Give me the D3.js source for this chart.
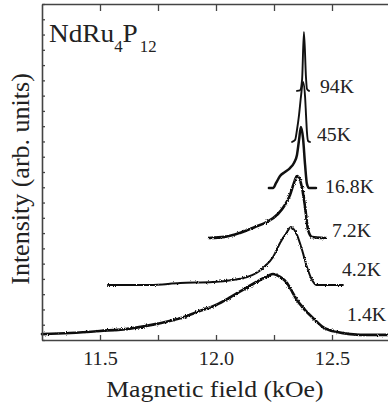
<!DOCTYPE html>
<html>
<head>
<meta charset="utf-8">
<script src="https://cdn.jsdelivr.net/npm/d3@7"></script>
<style>
  html, body { margin: 0; padding: 0; background: #fff; }
  svg { display: block; }
</style>
</head>
<body>
<div id="chart"></div>
<script>
// ---------- data (field in kOe, intensity in arb. units incl. vertical offset) ----------
const seriesLabels = ["1.4K", "4.2K", "7.2K", "16.8K", "45K", "94K"];

const field_1p4K = [11.25, 11.371, 11.5, 11.629, 11.75, 11.845, 11.918, 12.0, 12.06, 12.134, 12.19, 12.224, 12.246, 12.276, 12.306, 12.319, 12.349, 12.384, 12.418, 12.461, 12.522, 12.578, 12.664, 12.75];
const int_1p4K   = [0.39, 0.46, 0.59, 0.75, 1.07, 1.42, 1.83, 2.29, 2.78, 3.45, 3.93, 4.19, 4.32, 4.13, 3.73, 3.41, 2.62, 1.96, 1.44, 0.85, 0.52, 0.39, 0.33, 0.33];

const field_4p2K = [11.534, 11.716, 11.845, 11.987, 12.134, 12.203, 12.246, 12.276, 12.306, 12.323, 12.349, 12.371, 12.392, 12.414, 12.435, 12.547];
const int_4p2K   = [3.60, 3.60, 3.73, 3.80, 4.13, 4.72, 5.44, 6.35, 7.07, 7.40, 6.88, 5.89, 4.78, 3.93, 3.60, 3.60];

const field_7p2K = [11.97, 12.039, 12.103, 12.168, 12.22, 12.267, 12.297, 12.319, 12.336, 12.349, 12.362, 12.371, 12.384, 12.397, 12.414, 12.47];
const int_7p2K   = [6.68, 6.75, 7.01, 7.40, 7.73, 8.25, 8.84, 9.50, 10.28, 10.74, 10.48, 9.95, 8.71, 7.20, 6.75, 6.68];

const field_16p8K = [12.228, 12.246, 12.259, 12.276, 12.297, 12.319, 12.336, 12.349, 12.358, 12.366, 12.375, 12.384, 12.392, 12.401, 12.431];
const int_16p8K   = [9.95, 9.95, 10.28, 10.74, 11.00, 11.26, 11.59, 12.12, 13.10, 13.95, 13.23, 11.46, 10.22, 9.95, 9.95];

const field_45K = [12.328, 12.341, 12.349, 12.358, 12.366, 12.375, 12.384, 12.388, 12.392, 12.397, 12.405];
const int_45K   = [12.97, 13.10, 13.75, 14.74, 15.91, 16.90, 15.91, 14.74, 13.62, 13.03, 12.97];

const field_94K = [12.349, 12.362, 12.371, 12.379, 12.388, 12.392, 12.401];
const int_94K   = [16.31, 16.34, 17.03, 20.17, 17.16, 16.44, 16.31];

// label anchor positions (field, intensity) for each series
const labelField = [12.565, 12.543, 12.50, 12.47, 12.435, 12.448];
const labelInt   = [1.24, 4.19, 6.75, 9.63, 13.03, 16.18];

const xTickValues = [11.5, 11.75, 12.0, 12.25, 12.5];
const xTickLabels = ["11.5", "", "12.0", "", "12.5"];
const yTickValues = d3.range(0, 23, 1);

// ---------- layout ----------
const W = 388, H = 411;
const M = { left: 42, top: 4, right: -2, bottom: 71 };
const iw = W - M.left - M.right, ih = H - M.top - M.bottom;
const FONT = "'Liberation Serif', 'Times New Roman', Times, serif";

const svg = d3.select("#chart").append("svg").attr("width", W).attr("height", H)
  .attr("font-family", FONT);

const defs = svg.append("defs");
const filt = defs.append("filter").attr("id", "rough")
  .attr("x", "-5%").attr("y", "-20%").attr("width", "110%").attr("height", "140%");
filt.append("feTurbulence").attr("type", "fractalNoise").attr("baseFrequency", 0.9)
  .attr("numOctaves", 1).attr("seed", 3).attr("result", "noise");
filt.append("feDisplacementMap").attr("in", "SourceGraphic").attr("in2", "noise")
  .attr("scale", 3).attr("xChannelSelector", "R").attr("yChannelSelector", "G");

const x = d3.scaleLinear().domain([11.25, 12.75]).range([0, iw]);
const y = d3.scaleLinear().domain([0, 22]).range([ih, 0]);

const g = svg.append("g").attr("transform", `translate(${M.left},${M.top})`);

const series = [
  { f: field_1p4K, v: int_1p4K, w: 2.7, rough: true },
  { f: field_4p2K, v: int_4p2K, w: 2.0, rough: true },
  { f: field_7p2K, v: int_7p2K, w: 2.6, rough: true },
  { f: field_16p8K, v: int_16p8K, w: 2.5, rough: false },
  { f: field_45K, v: int_45K, w: 1.9, rough: false },
  { f: field_94K, v: int_94K, w: 1.9, rough: false }
];

const line = d3.line().x(d => x(d[0])).y(d => y(d[1])).curve(d3.curveMonotoneX);

series.forEach((s, i) => {
  const pts = s.f.map((f, k) => [f, s.v[k]]);
  const p = g.append("path").datum(pts)
    .attr("d", line)
    .attr("fill", "none").attr("stroke", "#111")
    .attr("stroke-width", s.w)
    .attr("stroke-linejoin", "round").attr("stroke-linecap", "round");
  if (s.rough) p.attr("filter", "url(#rough)");
});

// series labels
seriesLabels.forEach((lab, i) => {
  g.append("text")
    .attr("transform", `translate(${x(labelField[i])},${y(labelInt[i])}) scale(1.1,1)`)
    .attr("font-family", FONT).attr("fill", "#222")
    .attr("font-size", 18).text(lab);
});

// ---------- axes ----------
const axisColor = "#444";
const xb = g.append("g").attr("transform", `translate(0,${ih})`)
  .call(d3.axisBottom(x).tickValues(xTickValues).tickSizeInner(-5).tickSizeOuter(0)
    .tickPadding(12).tickFormat((d, i) => xTickLabels[i]));
const xt = g.append("g")
  .call(d3.axisTop(x).tickValues(xTickValues).tickSizeInner(-7).tickSizeOuter(0).tickFormat(""));
const yl = g.append("g")
  .call(d3.axisLeft(y).tickValues(yTickValues).tickSizeInner(-3).tickSizeOuter(0).tickFormat(""));

[xb, xt, yl].forEach(a => {
  a.attr("font-family", FONT);
  a.select(".domain").attr("stroke", axisColor).attr("stroke-width", 1.6);
  a.selectAll(".tick line").attr("stroke", axisColor).attr("stroke-width", 1.3);
});
xb.selectAll(".tick text")
  .attr("font-family", FONT).attr("font-size", 18)
  .attr("fill", "#222").attr("transform", "scale(1.12,1)");

// axis titles
svg.append("text")
  .attr("transform", `translate(${M.left + x(11.995)},${H - 14}) scale(1.12,1)`)
  .attr("text-anchor", "middle").attr("font-size", 23).attr("fill", "#222")
  .attr("font-family", FONT)
  .text("Magnetic field (kOe)");

svg.append("text")
  .attr("transform", `translate(29,${M.top + 175}) rotate(-90)`)
  .attr("text-anchor", "middle").attr("font-size", 26).attr("fill", "#222")
  .attr("font-family", FONT)
  .text("Intensity (arb. units)");

// compound label
const t = g.append("text").attr("x", 7).attr("y", 38).attr("font-size", 26)
  .attr("fill", "#222").attr("font-family", FONT)
  .attr("transform", "translate(-0.35,0) scale(1.05,1)");
t.append("tspan").text("NdRu");
t.append("tspan").attr("font-size", 16).attr("dy", 10).text("4");
t.append("tspan").attr("dy", -10).text("P");
t.append("tspan").attr("font-size", 16).attr("dy", 10).attr("dx", 2).text("12");
</script>
</body>
</html>
